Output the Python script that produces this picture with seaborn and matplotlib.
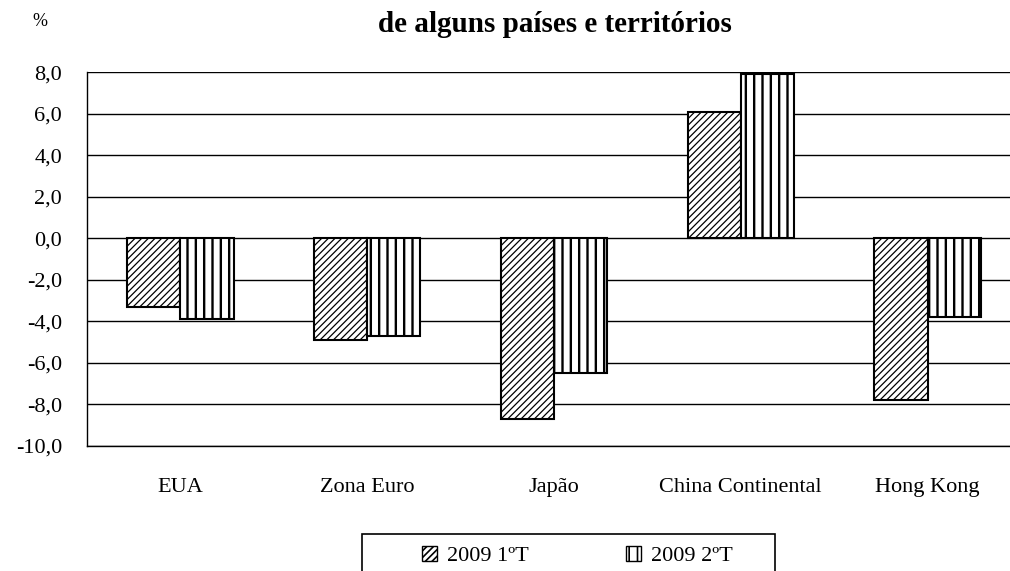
import numpy as np
import pandas as pd
import matplotlib
matplotlib.use("Agg")
import matplotlib.pyplot as plt
import seaborn as sns
from matplotlib.patches import Patch, Rectangle
from matplotlib.ticker import FuncFormatter, MultipleLocator

# ---------------------------------------------------------------
# Data
# ---------------------------------------------------------------
regions = ["EUA", "Zona Euro", "Japão", "China Continental", "Hong Kong"]
q1_2009 = [-3.3, -4.9, -8.7, 6.1, -7.8]
q2_2009 = [-3.9, -4.7, -6.5, 7.9, -3.8]
series = ["2009 1ºT", "2009 2ºT"]
hatches = ["/////", "||"]
hatch_lw = [0.9, 1.7]

df = pd.DataFrame({
    "Região": regions * 2,
    "Valor": q1_2009 + q2_2009,
    "Série": [series[0]] * len(regions) + [series[1]] * len(regions),
})

# ---------------------------------------------------------------
# Style
# ---------------------------------------------------------------
sns.set_style("white")
plt.rcParams["font.family"] = ["Liberation Serif", "DejaVu Serif"]
plt.rcParams["text.color"] = "black"
plt.rcParams["xtick.color"] = "black"
plt.rcParams["ytick.color"] = "black"
plt.rcParams["hatch.linewidth"] = 1.2
plt.rcParams["hatch.color"] = "black"


def set_hatch_lw(p, lw):
    # per-patch hatch width where this matplotlib supports it
    if hasattr(p, "set_hatch_linewidth"):
        p.set_hatch_linewidth(lw)
    else:
        p._hatch_linewidth = lw


W, H = 1010, 571
FS = 16
fig = plt.figure(figsize=(W / 100, H / 100), dpi=100)
ax = fig.add_axes([87 / W, 1 - 446 / H, (1021 - 87) / W, (446 - 72.3) / H])

sns.barplot(
    data=df, x="Região", y="Valor", hue="Série", order=regions,
    hue_order=series, palette=["white", "white"], width=0.57,
    edgecolor="black", linewidth=1.5, legend=False, ax=ax,
)

for cont, h, lw in zip(ax.containers, hatches, hatch_lw):
    for bar in cont:
        bar.set_hatch(h)
        bar.set_edgecolor("black")
        set_hatch_lw(bar, lw)

# ---------------------------------------------------------------
# Axes
# ---------------------------------------------------------------
ax.set_xlim(-0.5, 4.5)
ax.set_ylim(-10, 8)
ax.yaxis.set_major_locator(MultipleLocator(2))
ax.yaxis.set_major_formatter(FuncFormatter(lambda v, p: f"{v:.1f}".replace(".", ",")))
ax.grid(axis="y", color="black", linewidth=1.0)
ax.set_axisbelow(True)
for side in ["top", "right"]:
    ax.spines[side].set_visible(False)
for side in ["left", "bottom"]:
    ax.spines[side].set_color("black")
    ax.spines[side].set_linewidth(1.0)
ax.tick_params(axis="y", length=0, pad=18, labelsize=FS)
ax.tick_params(axis="x", length=0, pad=23, labelsize=FS)
ax.set_xlabel("")
ax.set_ylabel("")

# Title (only second line visible in the reference) and unit
fig.text(555 / W, 1 - 24 / H, "de alguns países e territórios",
         ha="center", va="center", fontsize=21, fontweight="bold")
fig.text(40 / W, 1 - 21 / H, "%", ha="center", va="center", fontsize=13)

# ---------------------------------------------------------------
# Legend (box runs off the bottom edge, as in the reference)
# ---------------------------------------------------------------
fig.patches.append(Rectangle((362 / W, -0.05), (775 - 362) / W, 0.05 + (1 - 534 / H),
                             transform=fig.transFigure, fill=False,
                             edgecolor="black", linewidth=1.2))
handles = []
for h, lw in zip(hatches, hatch_lw):
    p = Patch(facecolor="white", edgecolor="black", hatch=h, linewidth=1.0)
    set_hatch_lw(p, lw)
    handles.append(p)
fig.legend(handles, series, loc="center left",
           bbox_to_anchor=(411 / W, 1 - 556 / H), ncol=2, frameon=False,
           fontsize=FS, borderpad=0, handlelength=0.65, handleheight=0.65,
           handletextpad=0.45, columnspacing=4.4)

fig.savefig("out.png", dpi=100)
